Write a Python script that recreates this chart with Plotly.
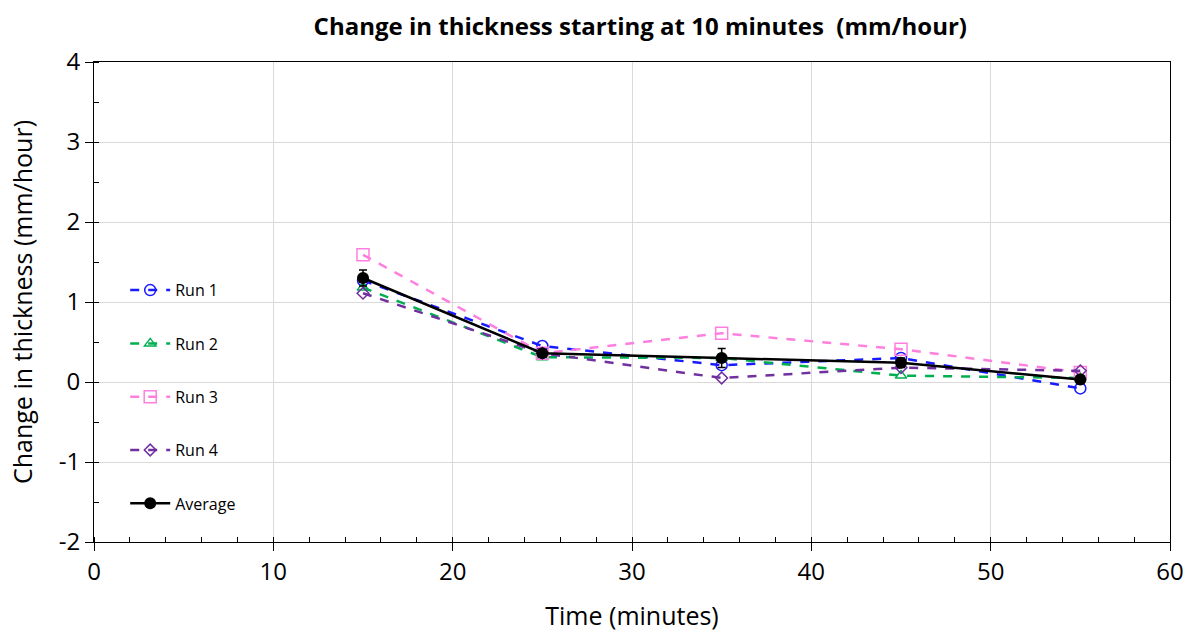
import plotly.graph_objects as go

time_min = [15, 25, 35, 45, 55]
run1 = [1.27, 0.45, 0.21, 0.30, -0.08]
run2 = [1.18, 0.31, 0.30, 0.08, 0.05]
run3 = [1.59, 0.36, 0.61, 0.41, 0.12]
run4 = [1.11, 0.36, 0.05, 0.18, 0.14]
average = [1.30, 0.36, 0.30, 0.24, 0.03]
avg_err = [0.10, 0.05, 0.12, 0.06, 0.05]

x_ticks = [0, 10, 20, 30, 40, 50, 60]
y_ticks = [-2, -1, 0, 1, 2, 3, 4]
y_labels = ["-2", "-1", "0", "1", "2", "3", "4"]

names = ["Run 1", "Run 2", "Run 3", "Run 4"]
series = [run1, run2, run3, run4]
colors = ["#1a1aff", "#00b050", "#ff7fdf", "#7030a0"]
symbols = ["circle-open", "triangle-up-open", "square-open", "diamond-open"]
sizes = [11, 10, 12, 9]

FONT = "Open Sans"
fig = go.Figure()
for i, (nm, ys) in enumerate(zip(names, series)):
    fig.add_trace(go.Scatter(
        x=time_min, y=ys, name=nm, mode="lines+markers", legendgroup=nm,
        line=dict(color=colors[i], width=2.5, dash="dash"),
        marker=dict(symbol=symbols[i], size=sizes[i], color=colors[i],
                    line=dict(color=colors[i], width=1.5)),
    ))
fig.add_trace(go.Scatter(
    x=time_min, y=average, name="Average", mode="lines+markers", legendgroup="avg",
    line=dict(color="black", width=2.5),
    marker=dict(symbol="circle", size=12, color="black"),
    error_y=dict(type="data", array=avg_err, color="black", thickness=1.5, width=4),
))

fig.update_layout(
    width=1189, height=632,
    margin=dict(l=94, r=19, t=62, b=90),
    paper_bgcolor="white", plot_bgcolor="white",
    font=dict(family=FONT, color="black"),
    title=dict(text="<b>Change in thickness starting at 10 minutes  (mm/hour)</b>",
               x=0.5385, xanchor="center", y=0.958, yanchor="middle",
               font=dict(size=24, family=FONT, color="black")),
    showlegend=True,
    legend=dict(x=0.029, y=0.56, xanchor="left", yanchor="top",
                bgcolor="rgba(0,0,0,0)", font=dict(size=16, family=FONT),
                tracegroupgap=29.5, itemwidth=40),
)
fig.update_xaxes(
    range=[0, 60], tickvals=x_ticks, automargin=False,
    showgrid=True, gridcolor="#d9d9d9", gridwidth=1,
    showline=True, linecolor="black", linewidth=1, mirror=True,
    ticks="outside", ticklen=8, tickcolor="black",
    minor=dict(dtick=2, ticks="inside", ticklen=5, tickcolor="black", showgrid=False),
    tickfont=dict(size=24, family=FONT),
    title=dict(text="Time (minutes)", font=dict(size=25, family=FONT), standoff=26),
    zeroline=False,
)
fig.update_yaxes(
    range=[-2, 4], tickvals=y_ticks, ticktext=y_labels, automargin=False,
    showgrid=True, gridcolor="#d9d9d9", gridwidth=1,
    showline=True, linecolor="black", linewidth=1, mirror=True,
    ticks="outside", ticklen=8, tickcolor="black",
    minor=dict(dtick=0.5, ticks="inside", ticklen=5, tickcolor="black", showgrid=False),
    tickfont=dict(size=24, family=FONT),
    title=dict(text="Change in thickness (mm/hour)", font=dict(size=25, family=FONT), standoff=18),
    zeroline=False,
)

fig.write_html("out.html")
